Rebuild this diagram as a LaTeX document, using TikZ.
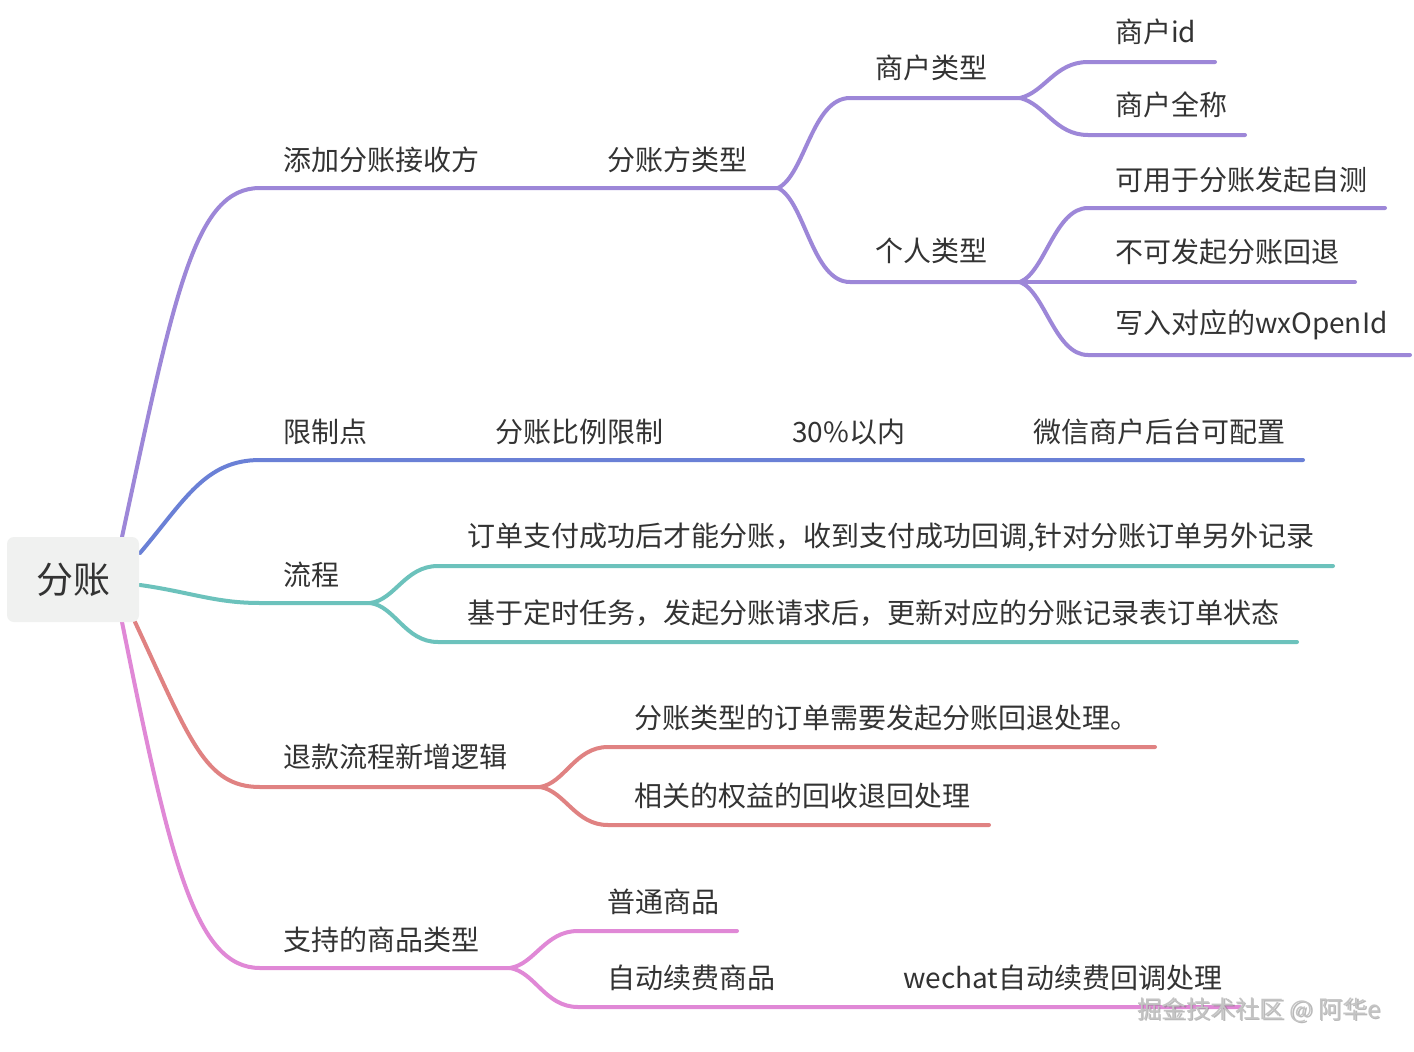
\documentclass[tikz,border=0pt]{standalone}
\usepackage{fontspec}
\setmainfont{Noto Sans CJK SC}
\definecolor{cpur}{HTML}{9D87D8}
\definecolor{cblu}{HTML}{6A80D6}
\definecolor{ctea}{HTML}{6CC2BC}
\definecolor{cred}{HTML}{E08282}
\definecolor{cpnk}{HTML}{E088D6}
\definecolor{ctxt}{HTML}{333333}
\definecolor{croot}{HTML}{F0F1F0}
\definecolor{cwm}{HTML}{C4C4C4}
\tikzset{
  lbl/.style={anchor=west,inner sep=0pt,text=ctxt,font=\fontsize{28}{32}\selectfont},
  br/.style={line width=4pt,line cap=round},
  rootbox/.style={fill=croot,rounded corners=7pt,minimum width=132pt,minimum height=85pt,inner sep=0pt,text=ctxt,font=\fontsize{37}{42}\selectfont},
  wmk/.style={anchor=west,inner sep=0pt,font=\fontsize{24.5}{28}\selectfont},
}
\begin{document}
\begin{tikzpicture}[x=1pt,y=-1pt]
\useasboundingbox (0,0) rectangle (1414,1052);
\fill[white] (0,0) rectangle (1414,1052);

% ---------- coordinates ----------
% purple
\coordinate (p0) at (122,537);
\coordinate (p1) at (260,188);
\coordinate (p2) at (778,188);
\coordinate (q1) at (850,98);
\coordinate (q1e) at (1020,98);
\coordinate (q2) at (850,282);
\coordinate (q2e) at (1020,282);
\coordinate (r1) at (1088,62);
\coordinate (r1e) at (1215,62);
\coordinate (r2) at (1088,135);
\coordinate (r2e) at (1245,135);
\coordinate (s1) at (1088,208);
\coordinate (s1e) at (1385,208);
\coordinate (s2e) at (1355,282);
\coordinate (s3) at (1088,355);
\coordinate (s3e) at (1410,355);
% blue
\coordinate (b0) at (140,553);
\coordinate (b1) at (260,460);
\coordinate (b2) at (1303,460);
% teal
\coordinate (t0) at (140,585);
\coordinate (t1) at (260,603);
\coordinate (t2) at (370,603);
\coordinate (t3) at (438,566);
\coordinate (t3e) at (1333,566);
\coordinate (t4) at (438,642);
\coordinate (t4e) at (1297,642);
% red
\coordinate (d0) at (135,622);
\coordinate (d1) at (260,787);
\coordinate (d2) at (540,787);
\coordinate (d3) at (608,747);
\coordinate (d3e) at (1155,747);
\coordinate (d4) at (608,825);
\coordinate (d4e) at (989,825);
% pink
\coordinate (k0) at (122,622);
\coordinate (k1) at (260,968);
\coordinate (k2) at (510,968);
\coordinate (k3) at (578,931);
\coordinate (k3e) at (737,931);
\coordinate (k4) at (578,1007);
\coordinate (k4e) at (1240,1007);

% ---------- connectors ----------
\draw[br,cpur] (p0) .. controls (175,290) and (195,188) .. (p1) -- (p2);
\draw[br,cpur] (p2) .. controls (805,175) and (812,98) .. (q1) -- (q1e);
\draw[br,cpur] (p2) .. controls (805,201) and (812,282) .. (q2) -- (q2e);
\draw[br,cpur] (q1e) .. controls (1045,92) and (1055,62) .. (r1) -- (r1e);
\draw[br,cpur] (q1e) .. controls (1045,104) and (1055,135) .. (r2) -- (r2e);
\draw[br,cpur] (q2e) .. controls (1045,272) and (1055,208) .. (s1) -- (s1e);
\draw[br,cpur] (q2e) -- (s2e);
\draw[br,cpur] (q2e) .. controls (1045,292) and (1055,355) .. (s3) -- (s3e);

\draw[br,cblu] (b0) .. controls (185,500) and (205,460) .. (b1) -- (b2);

\draw[br,ctea] (t0) .. controls (190,592) and (215,603) .. (t1) -- (t2);
\draw[br,ctea] (t2) .. controls (395,600) and (405,566) .. (t3) -- (t3e);
\draw[br,ctea] (t2) .. controls (395,606) and (405,642) .. (t4) -- (t4e);

\draw[br,cred] (d0) .. controls (190,740) and (205,787) .. (d1) -- (d2);
\draw[br,cred] (d2) .. controls (565,783) and (575,747) .. (d3) -- (d3e);
\draw[br,cred] (d2) .. controls (565,791) and (575,825) .. (d4) -- (d4e);

\draw[br,cpnk] (k0) .. controls (170,860) and (195,968) .. (k1) -- (k2);
\draw[br,cpnk] (k2) .. controls (535,964) and (545,931) .. (k3) -- (k3e);
\draw[br,cpnk] (k2) .. controls (535,972) and (545,1007) .. (k4) -- (k4e);

% ---------- root ----------
\node[rootbox] (root) at (73,579.5) {分账};

% ---------- labels ----------
\node[lbl] (n1) at (283,160) {添加分账接收方};
\node[lbl] (n11) at (607,160) {分账方类型};
\node[lbl] (n111) at (875,68) {商户类型};
\node[lbl] (n112) at (875,251) {个人类型};
\node[lbl] (n1111) at (1115,32) {商户id};
\node[lbl] (n1112) at (1115,105) {商户全称};
\node[lbl] (n1121) at (1115,180) {可用于分账发起自测};
\node[lbl] (n1122) at (1115,252) {不可发起分账回退};
\node[lbl] (n1123) at (1115,325) {写入对应的wxOpenId};

\node[lbl] (n2) at (283,432) {限制点};
\node[lbl] (n21) at (495,432) {分账比例限制};
\node[lbl] (n22) at (792,432) {30\%以内};
\node[lbl] (n23) at (1033,432) {微信商户后台可配置};

\node[lbl] (n3) at (283,575) {流程};
\node[lbl] (n31) at (467,537) {订单支付成功后才能分账，收到支付成功回调,针对分账订单另外记录};
\node[lbl] (n32) at (467,613) {基于定时任务，发起分账请求后，更新对应的分账记录表订单状态};

\node[lbl] (n4) at (283,757) {退款流程新增逻辑};
\node[lbl] (n41) at (634,718) {分账类型的订单需要发起分账回退处理。};
\node[lbl] (n42) at (634,796) {相关的权益的回收退回处理};

\node[lbl] (n5) at (283,940) {支持的商品类型};
\node[lbl] (n51) at (607,902) {普通商品};
\node[lbl] (n52) at (607,978) {自动续费商品};
\node[lbl] (n521) at (903,978) {wechat自动续费回调处理};

% ---------- watermark ----------
\node[wmk,text=black!50,opacity=0.55] at (1138.5,1011.5) {掘金技术社区 @ 阿华e};
\node[wmk,text=cwm] (wm) at (1137,1010) {掘金技术社区 @ 阿华e};
\end{tikzpicture}
\end{document}
